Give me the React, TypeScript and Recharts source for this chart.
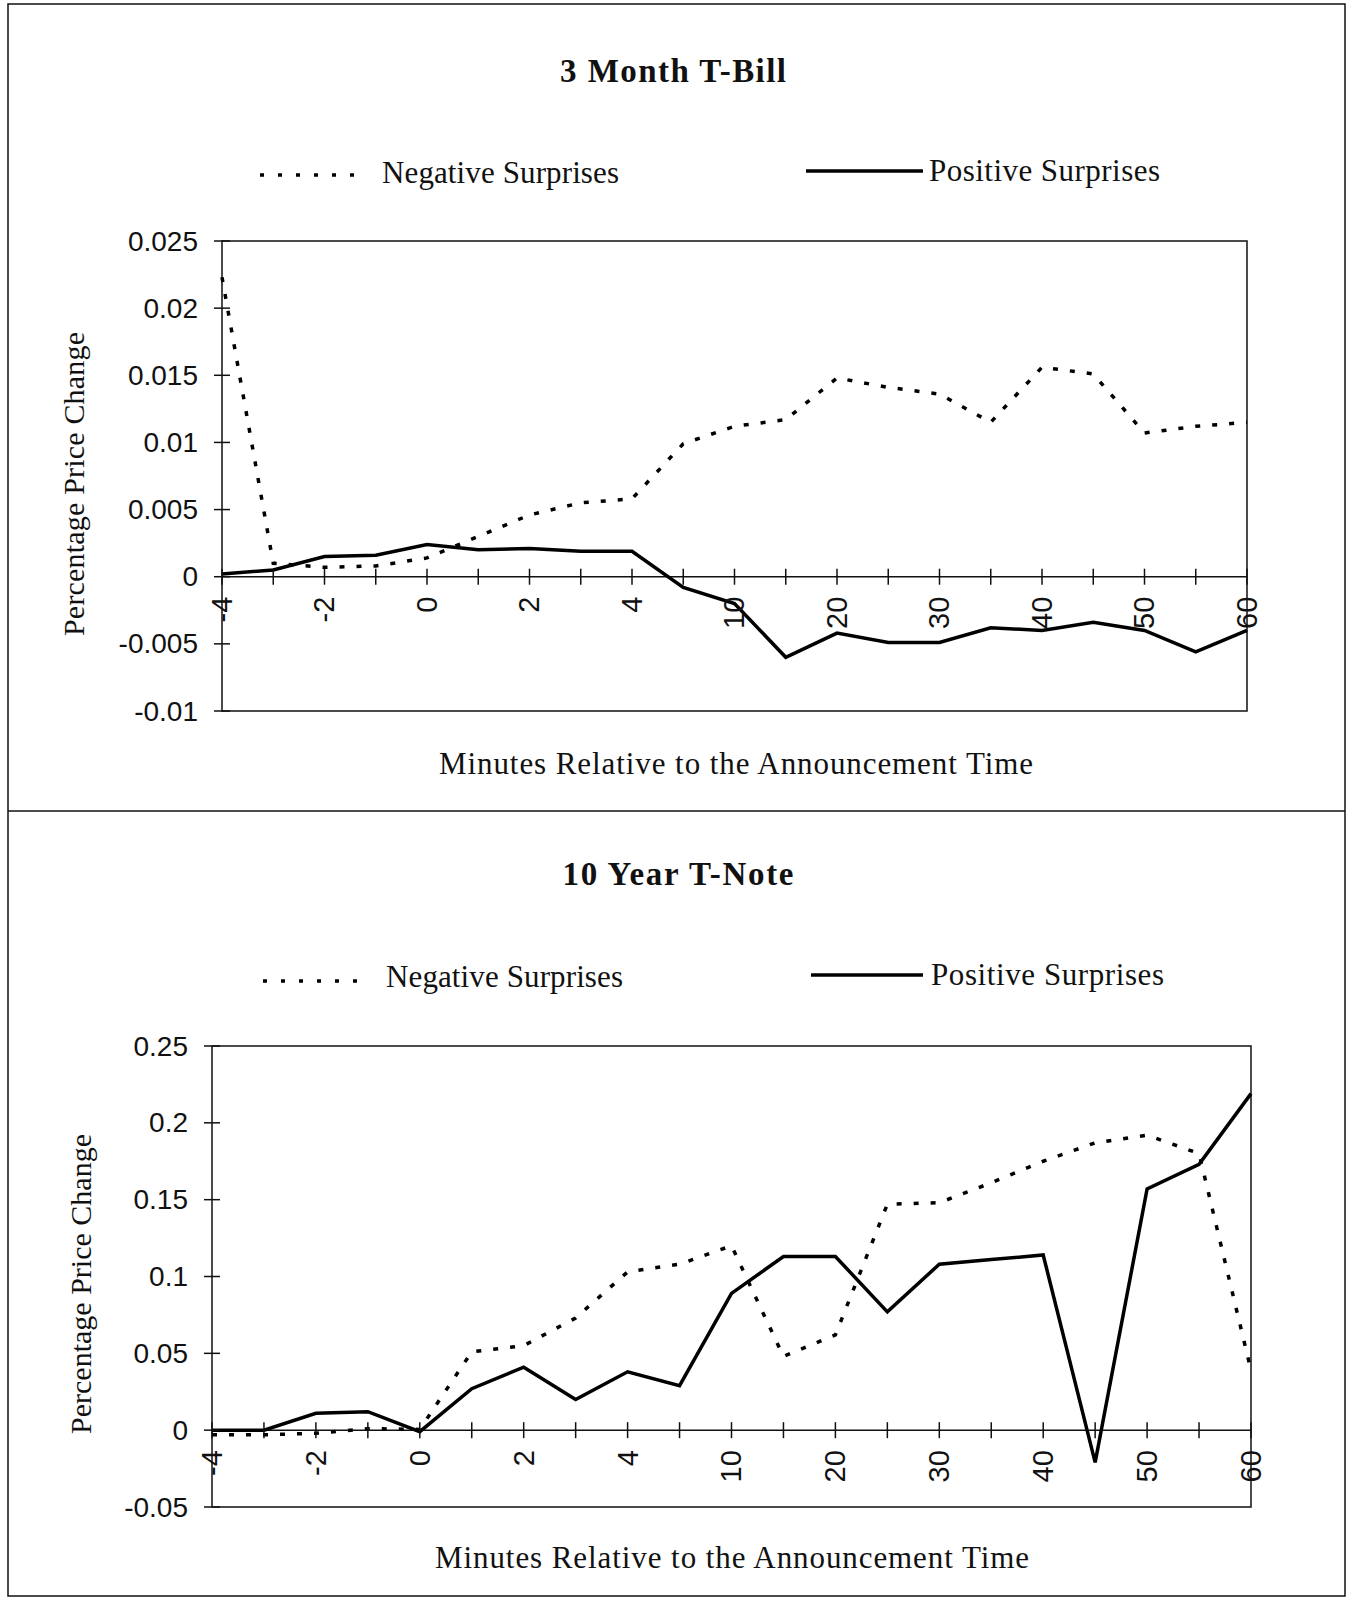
import React from "react";
import {
  LineChart,
  Line,
  XAxis,
  YAxis,
  ReferenceArea,
  ReferenceDot,
  ReferenceLine,
} from "recharts";

// minutes relative to the announcement
const minutes = [-4, -3, -2, -1, 0, 1, 2, 3, 4, 5, 10, 15, 20, 25, 30, 35, 40, 45, 50, 55, 60];
const labeledMinutes = [-4, -2, 0, 2, 4, 10, 20, 30, 40, 50, 60];

// 3 Month T-Bill
const billNegative = [
  0.0223, 0.001, 0.0007, 0.0008, 0.0014, 0.003, 0.0046, 0.0055, 0.0058, 0.0099, 0.0112,
  0.0117, 0.0148, 0.0141, 0.0136, 0.0115, 0.0156, 0.0151, 0.0107, 0.0112, 0.0115,
];
const billPositive = [
  0.0002, 0.0005, 0.0015, 0.0016, 0.0024, 0.002, 0.0021, 0.0019, 0.0019, -0.0008, -0.002,
  -0.006, -0.0042, -0.0049, -0.0049, -0.0038, -0.004, -0.0034, -0.004, -0.0056, -0.004,
];
const billTicks = [0.025, 0.02, 0.015, 0.01, 0.005, 0, -0.005, -0.01];

// 10 Year T-Note
const noteNegative = [
  -0.003, -0.003, -0.002, 0.001, 0.0005, 0.051, 0.055, 0.073, 0.103, 0.108, 0.12,
  0.048, 0.062, 0.147, 0.148, 0.161, 0.175, 0.187, 0.192, 0.18, 0.039,
];
const notePositive = [
  0, 0, 0.011, 0.012, -0.001, 0.027, 0.041, 0.02, 0.038, 0.029, 0.089,
  0.113, 0.113, 0.077, 0.108, 0.111, 0.114, -0.021, 0.157, 0.173, 0.219,
];
const noteTicks = [0.25, 0.2, 0.15, 0.1, 0.05, 0, -0.05];

const SERIF = '"Liberation Serif", "Times New Roman", serif';
const SANS = '"Liberation Sans", Arial, sans-serif';
const INK = "#111";
const DOTS = "5 12";

const YTick = (props: any) => {
  const { x, y, payload } = props;
  return (
    <g>
      <line x1={x - 8} x2={x + 8} y1={y} y2={y} stroke={INK} strokeWidth={1.5} />
      <text
        x={x - 24}
        y={y}
        textAnchor="end"
        dominantBaseline="central"
        fontFamily={SANS}
        fontSize={28}
        fill={INK}
      >
        {String(payload.value)}
      </text>
    </g>
  );
};

const XTick = (props: any) => {
  const { cx, cy, minute } = props;
  const show = labeledMinutes.includes(minute);
  const ly = cy + 20;
  return (
    <g>
      <line x1={cx} x2={cx} y1={cy - 8} y2={cy + 8} stroke={INK} strokeWidth={1.5} />
      {show && (
        <text
          x={cx}
          y={ly}
          transform={`rotate(-90, ${cx}, ${ly})`}
          textAnchor="end"
          dominantBaseline="central"
          fontFamily={SANS}
          fontSize={29}
          fill={INK}
        >
          {String(minute)}
        </text>
      )}
    </g>
  );
};

type PanelProps = {
  negative: number[];
  positive: number[];
  ticks: number[];
  top: number;
  height: number;
  margin: { top: number; right: number; bottom: number; left: number };
};

const Panel = ({ negative, positive, ticks, top, height, margin }: PanelProps) => {
  const data = minutes.map((m, i) => ({ minute: m, negative: negative[i], positive: positive[i] }));
  const lo = ticks[ticks.length - 1];
  const hi = ticks[0];
  return (
    <div style={{ position: "absolute", left: 0, top }}>
      <LineChart width={1351} height={height} data={data} margin={margin}>
        <XAxis dataKey="minute" type="category" hide />
        <YAxis
          domain={[lo, hi]}
          ticks={ticks}
          interval={0}
          width={150}
          axisLine={false}
          tickLine={false}
          tickSize={0}
          tickMargin={0}
          tick={<YTick />}
        />
        <ReferenceArea
          x1={minutes[0]}
          x2={minutes[minutes.length - 1]}
          y1={lo}
          y2={hi}
          fill="none"
          stroke={INK}
          strokeWidth={1.5}
        />
        <ReferenceLine y={0} stroke={INK} strokeWidth={1.5} />
        {minutes.map((m) => (
          <ReferenceDot
            key={m}
            x={m}
            y={0}
            r={0}
            shape={(p: any) => <XTick {...p} minute={m} />}
          />
        ))}
        <Line
          type="linear"
          dataKey="negative"
          stroke="#000"
          strokeWidth={3.5}
          strokeDasharray={DOTS}
          dot={false}
          isAnimationActive={false}
        />
        <Line
          type="linear"
          dataKey="positive"
          stroke="#000"
          strokeWidth={3.5}
          dot={false}
          isAnimationActive={false}
        />
      </LineChart>
    </div>
  );
};

const Texts = () => (
  <svg
    width={1351}
    height={1600}
    style={{ position: "absolute", left: 0, top: 0, pointerEvents: "none" }}
  >
    <rect x={8} y={4} width={1337} height={1592} fill="none" stroke={INK} strokeWidth={1.5} />
    <line x1={8} x2={1345} y1={811} y2={811} stroke={INK} strokeWidth={1.5} />

    {/* top panel */}
    <text x={673} y={82} textAnchor="middle" fontFamily={SERIF} fontWeight="bold" fontSize={33} textLength={226} fill={INK}>
      3 Month T-Bill
    </text>
    <line x1={260} x2={367} y1={175} y2={175} stroke="#000" strokeWidth={3.5} strokeDasharray="4 14" />
    <text x={382} y={183} fontFamily={SERIF} fontSize={31} textLength={237} fill={INK}>
      Negative Surprises
    </text>
    <line x1={806} x2={923} y1={171} y2={171} stroke="#000" strokeWidth={3.5} />
    <text x={929} y={181} fontFamily={SERIF} fontSize={31} textLength={231} fill={INK}>
      Positive Surprises
    </text>
    <text x={736} y={774} textAnchor="middle" fontFamily={SERIF} fontSize={31} textLength={594} fill={INK}>
      Minutes Relative to the Announcement Time
    </text>
    <text
      x={73}
      y={484}
      transform="rotate(-90, 73, 484)"
      textAnchor="middle"
      dominantBaseline="central"
      fontFamily={SERIF}
      fontSize={30}
      textLength={304}
      fill={INK}
    >
      Percentage Price Change
    </text>

    {/* bottom panel */}
    <text x={678} y={885} textAnchor="middle" fontFamily={SERIF} fontWeight="bold" fontSize={33} textLength={231} fill={INK}>
      10 Year T-Note
    </text>
    <line x1={263} x2={369} y1={981} y2={981} stroke="#000" strokeWidth={3.5} strokeDasharray="4 14" />
    <text x={386} y={987} fontFamily={SERIF} fontSize={31} textLength={237} fill={INK}>
      Negative Surprises
    </text>
    <line x1={811} x2={923} y1={975} y2={975} stroke="#000" strokeWidth={3.5} />
    <text x={931} y={985} fontFamily={SERIF} fontSize={31} textLength={233} fill={INK}>
      Positive Surprises
    </text>
    <text x={732} y={1568} textAnchor="middle" fontFamily={SERIF} fontSize={31} textLength={594} fill={INK}>
      Minutes Relative to the Announcement Time
    </text>
    <text
      x={80}
      y={1284}
      transform="rotate(-90, 80, 1284)"
      textAnchor="middle"
      dominantBaseline="central"
      fontFamily={SERIF}
      fontSize={30}
      textLength={300}
      fill={INK}
    >
      Percentage Price Change
    </text>
  </svg>
);

export default function App() {
  return (
    <div
      style={{
        position: "absolute",
        left: 0,
        top: 0,
        width: 1351,
        height: 1600,
        background: "#fff",
        overflow: "hidden",
      }}
    >
      <Panel
        negative={billNegative}
        positive={billPositive}
        ticks={billTicks}
        top={0}
        height={811}
        margin={{ top: 241, right: 104, bottom: 100, left: 72 }}
      />
      <Panel
        negative={noteNegative}
        positive={notePositive}
        ticks={noteTicks}
        top={811}
        height={789}
        margin={{ top: 235, right: 100, bottom: 93, left: 62 }}
      />
      <Texts />
    </div>
  );
}
